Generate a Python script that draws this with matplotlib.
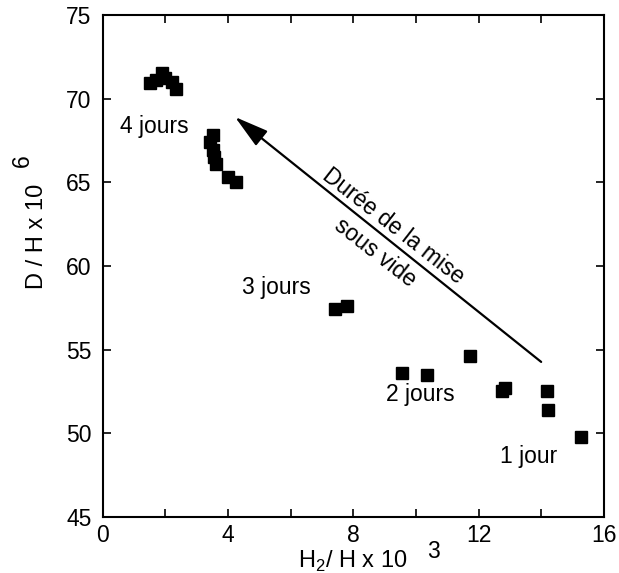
import matplotlib

matplotlib.use("Agg")
import matplotlib.pyplot as plt

plt.rcParams.update(
    {
        "font.family": ["Liberation Sans", "DejaVu Sans"],
        "font.size": 16.5,
        "axes.linewidth": 1.5,
        "xtick.direction": "in",
        "ytick.direction": "in",
        "xtick.top": True,
        "ytick.right": True,
        "xtick.major.size": 6,
        "ytick.major.size": 6,
        "xtick.major.width": 1.2,
        "ytick.major.width": 1.2,
        "xtick.major.pad": 5,
        "ytick.major.pad": 8,
    }
)

# H2/H x 10^3 and D/H x 10^6
h2_h = [1.50, 1.70, 1.90, 2.00, 2.20, 2.33,
        3.51, 3.42, 3.51, 3.55, 3.61, 3.99, 4.25,
        7.41, 7.80,
        9.55, 10.35, 11.73, 12.75, 12.85,
        14.19, 14.20, 15.27]
d_h = [70.9, 71.1, 71.5, 71.2, 71.0, 70.6,
       67.8, 67.4, 66.9, 66.5, 66.1, 65.3, 65.0,
       57.4, 57.6,
       53.6, 53.5, 54.6, 52.5, 52.7,
       52.5, 51.4, 49.8]

day_labels = ["4 jours", "3 jours", "2 jours", "1 jour"]
day_x = [1.66, 5.53, 10.13, 13.58]
day_y = [68.3, 58.7, 52.3, 48.6]

arrow_tail = (13.99, 54.26)
arrow_head = (4.22, 68.9)

x_ticks = list(range(0, 17, 2))
x_ticklabels = ["0", "", "4", "", "8", "", "12", "", "16"]
y_ticks = [45, 50, 55, 60, 65, 70, 75]

fig = plt.figure(figsize=(6.19, 5.73), dpi=100)
ax = fig.add_axes([0.166, 0.098, 0.81, 0.876])

ax.plot(h2_h, d_h, linestyle="none", marker="s", markersize=8.5, color="black")

for label, x, y in zip(day_labels, day_x, day_y):
    ax.text(x, y, label, ha="center", va="center")

ax.annotate(
    "",
    xy=arrow_head,
    xytext=arrow_tail,
    arrowprops=dict(
        arrowstyle="-|>,head_length=1.05,head_width=0.29",
        mutation_scale=20,
        lw=1.6,
        color="black",
        shrinkA=0,
        shrinkB=0,
    ),
)
ax.text(9.27, 62.4, "Durée de la mise", rotation=-38, ha="center", va="center",
        rotation_mode="anchor")
ax.text(8.69, 60.8, "sous vide", rotation=-38, ha="center", va="center",
        rotation_mode="anchor")

ax.set_xlim(0, 16)
ax.set_ylim(45, 75)
ax.set_xticks(x_ticks)
ax.set_xticklabels(x_ticklabels)
ax.set_yticks(y_ticks)

fig.text(0.570, 0.021, r"H$_\mathregular{2}$/ H x 10", ha="center", va="center", fontsize=17)
fig.text(0.700, 0.038, "3", ha="center", va="center")
fig.text(0.060, 0.588, "D / H x 10", rotation=90, ha="center", va="center", fontsize=17)
fig.text(0.036, 0.719, "6", rotation=90, ha="center", va="center")

fig.savefig("out.png", dpi=100)
